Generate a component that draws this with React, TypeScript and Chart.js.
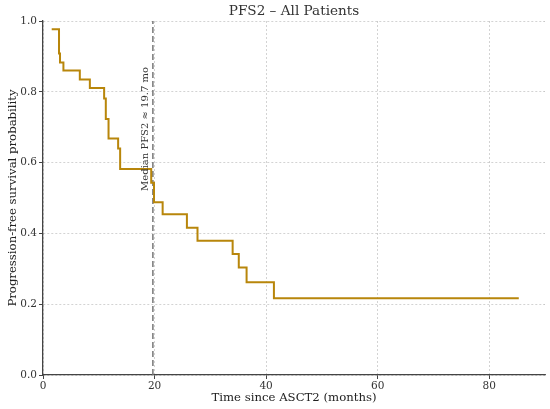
import { useEffect, useRef } from 'react';
import Chart from 'chart.js/auto';

// Kaplan-Meier steps
const eventTimes = [1.56, 2.87, 3.05, 3.66, 6.6, 8.4, 10.96, 11.26, 11.75, 13.47, 13.83, 19.4, 19.9, 21.45, 25.8, 27.7, 34.0, 35.1, 36.5, 41.4, 85.3];
const survival = [0.977, 0.908, 0.883, 0.86, 0.835, 0.811, 0.781, 0.723, 0.668, 0.64, 0.582, 0.543, 0.488, 0.454, 0.416, 0.379, 0.342, 0.304, 0.262, 0.217, 0.217];
const medianTime = 19.7;
const medianLabel = 'Median PFS2 ≈ 19.7 mo';
const chartTitle = 'PFS2 – All Patients';
const xTicks = [0, 20, 40, 60, 80];
const yTicks = [0, 0.2, 0.4, 0.6, 0.8, 1.0];

const FONT = "'DejaVu Serif', serif";
const GOLD = '#b8860b';
const SPINE = '#444';

// rotated median note plus a title centred over the plot area (not the canvas)
const overlayText = {
    id: 'overlayText',
    afterDatasetsDraw(chart: any) {
        const { ctx, scales, chartArea } = chart;
        const x = scales.x.getPixelForValue(medianTime) - 7;
        const y = scales.y.getPixelForValue(0.52);
        ctx.save();
        ctx.translate(x, y);
        ctx.rotate(-Math.PI / 2);
        ctx.font = `10px ${FONT}`;
        ctx.fillStyle = '#333';
        ctx.textAlign = 'left';
        ctx.textBaseline = 'middle';
        ctx.fillText(medianLabel, 0, 0);
        ctx.restore();

        ctx.save();
        ctx.font = `13.6px ${FONT}`;
        ctx.fillStyle = '#333';
        ctx.textAlign = 'center';
        ctx.textBaseline = 'middle';
        ctx.fillText(chartTitle, (chartArea.left + chartArea.right) / 2, 11);
        ctx.restore();
    }
};

const gridOpts = {
    color: 'rgba(0,0,0,0.22)',
    lineWidth: 0.8,
    tickColor: SPINE,
    tickLength: 4,
    tickWidth: 1,
    tickBorderDash: []
};

export default function App() {
    const chartRef = useRef<HTMLCanvasElement>(null);
    const chartInstance = useRef<Chart | null>(null);

    useEffect(() => {
        if (!chartRef.current) return;
        if (chartInstance.current) chartInstance.current.destroy();

        const points = eventTimes.map((t, i) => ({ x: t, y: survival[i] }));

        chartInstance.current = new Chart(chartRef.current, {
            type: 'line',
            data: {
                datasets: [
                    {
                        label: 'PFS2',
                        data: points,
                        stepped: 'before',
                        borderColor: GOLD,
                        borderWidth: 2,
                        pointRadius: 0,
                        fill: false,
                    },
                    {
                        label: 'Median',
                        data: [{ x: medianTime, y: 0 }, { x: medianTime, y: 1 }],
                        borderColor: '#777',
                        borderWidth: 1.5,
                        borderDash: [6, 3],
                        pointRadius: 0,
                        fill: false,
                    }
                ]
            },
            options: {
                animation: false,
                responsive: false,
                layout: { padding: { left: 6, right: 5, top: 21, bottom: 0 } },
                plugins: {
                    legend: { display: false },
                    tooltip: { enabled: false },
                    title: { display: false }
                },
                scales: {
                    x: {
                        type: 'linear',
                        min: 0,
                        max: 90,
                        afterBuildTicks: (s: any) => { s.ticks = xTicks.map(v => ({ value: v })); },
                        afterFit: (s: any) => { s.height = 34; },
                        ticks: {
                            includeBounds: false,
                            color: '#333',
                            padding: 1,
                            maxRotation: 0,
                            font: { family: FONT, size: 10.5 }
                        },
                        grid: gridOpts,
                        border: { display: true, color: SPINE, width: 1.3, dash: [2, 2] },
                        title: {
                            display: true,
                            text: 'Time since ASCT2 (months)',
                            color: '#222',
                            font: { family: FONT, size: 11.7 },
                            padding: { top: 0, bottom: 4 }
                        }
                    },
                    y: {
                        min: 0,
                        max: 1,
                        afterBuildTicks: (s: any) => { s.ticks = yTicks.map(v => ({ value: v })); },
                        afterFit: (s: any) => { s.width = 37; },
                        ticks: {
                            color: '#333',
                            padding: 2,
                            font: { family: FONT, size: 10.5 },
                            callback: (v: any) => Number(v).toFixed(1)
                        },
                        grid: gridOpts,
                        border: { display: true, color: SPINE, width: 1.3, dash: [2, 2] },
                        title: {
                            display: true,
                            text: 'Progression-free survival probability',
                            color: '#222',
                            font: { family: FONT, size: 11.7 },
                            padding: 0
                        }
                    }
                }
            },
            plugins: [overlayText]
        });

        return () => {
            if (chartInstance.current) {
                chartInstance.current.destroy();
                chartInstance.current = null;
            }
        };
    }, []);

    return (
        <div style={{ position: 'fixed', left: 0, top: 0, width: 550, height: 409, background: '#fff' }}>
            <canvas ref={chartRef} width={550} height={409} />
        </div>
    );
}
